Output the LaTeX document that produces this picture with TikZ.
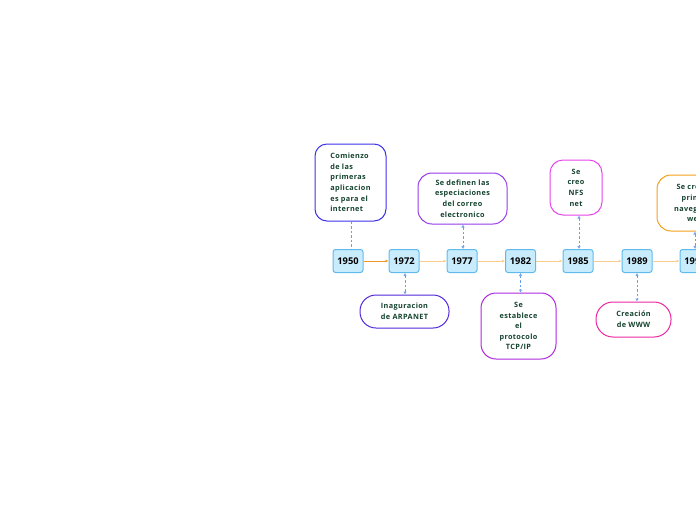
\documentclass[tikz,border=0pt]{standalone}
\usepackage{fontspec}
\setmainfont{Open Sans}
\newfontfamily\spaced[LetterSpace=5]{Open Sans}
\usetikzlibrary{arrows.meta}
\definecolor{txt}{RGB}{22,68,48}
\definecolor{yfill}{RGB}{200,236,252}
\definecolor{ydraw}{RGB}{96,186,236}
\definecolor{dashcol}{RGB}{100,160,235}
\definecolor{orA}{RGB}{242,150,40}
\definecolor{orB}{RGB}{250,205,140}
\definecolor{cBlue}{RGB}{60,50,235}
\definecolor{cPurp}{RGB}{150,60,235}
\definecolor{cMag}{RGB}{230,70,235}
\definecolor{cOrg}{RGB}{245,160,30}
\definecolor{cInd}{RGB}{80,40,220}
\definecolor{cVio}{RGB}{175,40,225}
\definecolor{cPink}{RGB}{235,40,160}
\tikzset{
  yearbox/.style={draw=ydraw, fill=yfill, line width=1pt, rounded corners=2.5pt,
    minimum width=30pt, minimum height=23pt, inner sep=0pt, font=\fontsize{9.3}{10}\selectfont\bfseries},
  topic/.style={draw=#1, line width=1pt, fill=white, inner sep=0pt, align=center,
    text=txt, font=\spaced\fontsize{7.3}{10.6}\selectfont\bfseries},
  tl/.style={-{Latex[length=3pt,width=3pt]}, line width=0.9pt},
  dcon/.style={draw=dashcol, dash pattern=on 2.5pt off 2pt, line width=0.8pt},
  dcon2/.style={dcon, {Latex[length=3pt,width=3.5pt,open]}-{Latex[length=3pt,width=3.5pt,open]}},
}
\begin{document}
\begin{tikzpicture}[x=1pt,y=-1pt]
\useasboundingbox (0,0) rectangle (696,520);
\begin{scope}
\clip (0,0) rectangle (696,520);
% year boxes
\node[yearbox] (y1950) at (348,261) {1950};
\node[yearbox] (y1972) at (404,261) {1972};
\node[yearbox] (y1977) at (462,261) {1977};
\node[yearbox] (y1982) at (520.5,261) {1982};
\node[yearbox] (y1985) at (578,261) {1985};
\node[yearbox] (y1989) at (637,261) {1989};
\node[yearbox] (y1991) at (695,261) {1991};
% timeline
\draw[tl, orA] (y1950) -- (y1972);
\draw[tl, orB] (y1972) -- (y1977);
\draw[tl, orB] (y1977) -- (y1982);
\draw[tl, orB] (y1982) -- (y1985);
\draw[tl, orB] (y1985) -- (y1989);
\draw[tl, orB] (y1989) -- (y1991);
% topics
\node[topic=cBlue, minimum width=71pt, minimum height=77pt, rounded corners=12pt, align=left] (t1) at (350.5,182.5)
  {Comienzo\\de las\\primeras\\aplicacion\\es para el\\internet};
\node[topic=cPurp, minimum width=89pt, minimum height=51pt, rounded corners=14pt] (t2) at (462.5,198.5)
  {Se definen las\\especiaciones\\del correo\\electronico};
\node[topic=cMag, minimum width=52pt, minimum height=55pt, rounded corners=13pt] (t3) at (576,187.5)
  {Se\\creo\\NFS\\net};
\node[topic=cOrg, minimum width=76pt, minimum height=56pt, rounded corners=14pt] (t4) at (695,203)
  {Se creo el\\primer\\navegador\\web};
\node[topic=cInd, minimum width=89pt, minimum height=33pt, rounded corners=16pt] (b1) at (404.5,311.5)
  {Inaguracion\\de ARPANET};
\node[topic=cVio, minimum width=75pt, minimum height=66pt, rounded corners=15pt] (b2) at (518.5,326)
  {Se\\establece\\el\\protocolo\\TCP/IP};
\node[topic=cPink, minimum width=75pt, minimum height=35pt, rounded corners=17pt] (b3) at (633.5,319.5)
  {Creación\\de WWW};
% dashed connectors
\draw[dcon] ([xshift=3pt]t1.south -| y1950.north) -- ([xshift=3pt]y1950.north);
\draw[dcon2] ([xshift=1pt]t2.south -| y1977.north) -- ([xshift=1pt]y1977.north);
\draw[dcon2] ([xshift=1pt]t3.south -| y1985.north) -- ([xshift=1pt]y1985.north);
\draw[dcon2] (t4.south -| y1991.north) -- (y1991.north);
\draw[dcon2] ([xshift=1pt]y1972.south) -- ([xshift=1pt]y1972.south |- b1.north);
\draw[dcon2] (y1982.south) -- (y1982.south |- b2.north);
\draw[dcon2] (y1989.south) -- (y1989.south |- b3.north);
\end{scope}
\end{tikzpicture}
\end{document}
